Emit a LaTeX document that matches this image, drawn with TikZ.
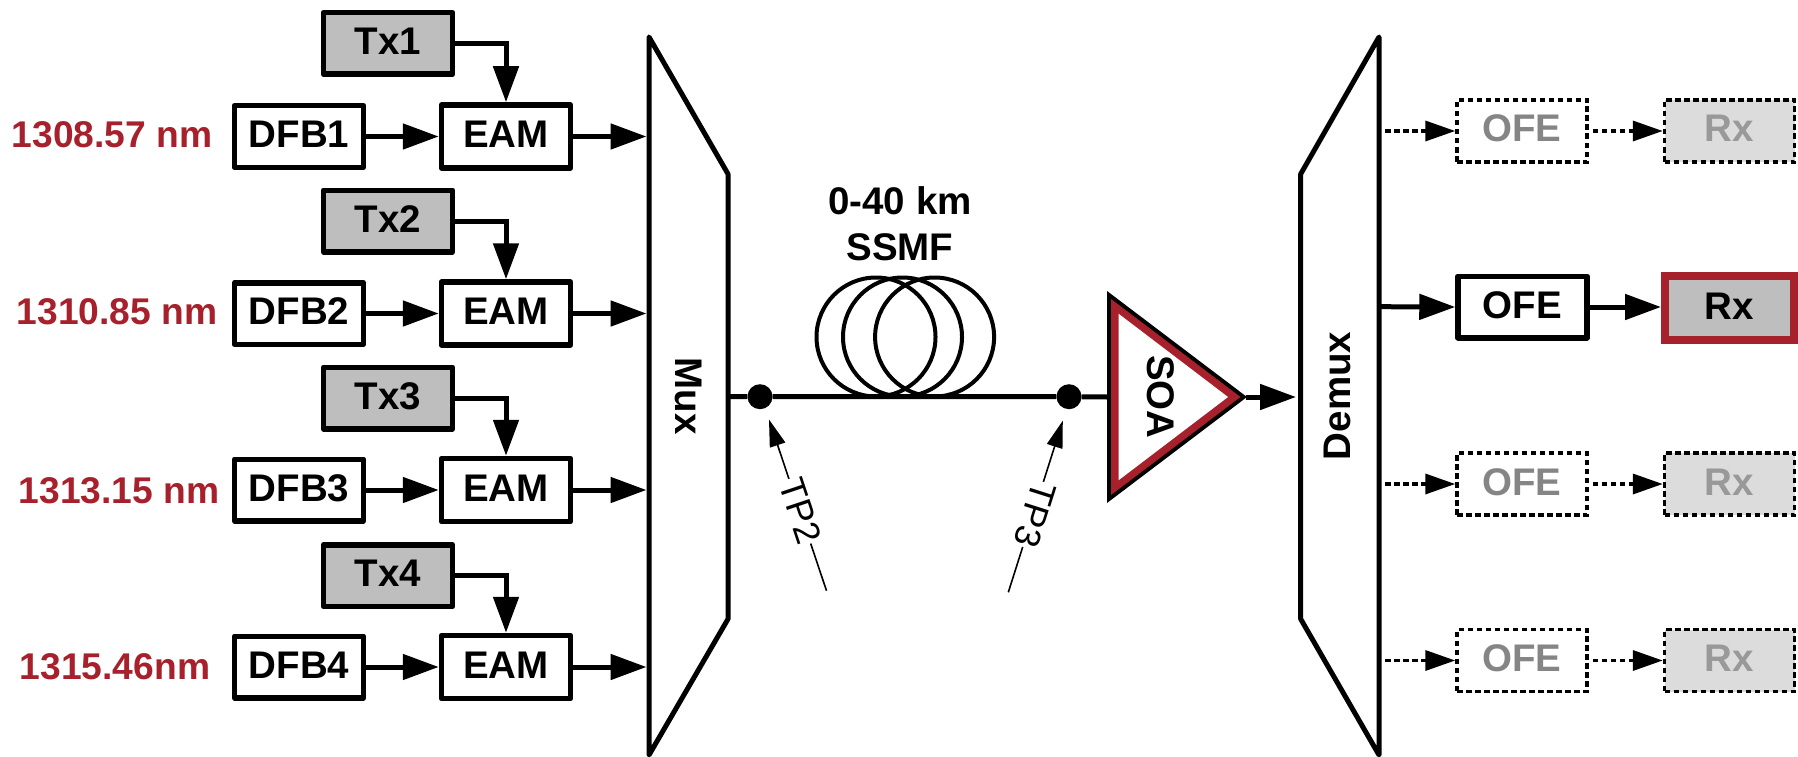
\documentclass[tikz,border=0pt]{standalone}
\usepackage{fontspec}
\setmainfont{Liberation Sans}
\usetikzlibrary{arrows.meta,calc}
\definecolor{soared}{HTML}{A6212C}
\definecolor{midgray}{HTML}{BEBEBE}
\definecolor{lightgray2}{HTML}{DCDCDC}
\definecolor{fadeA}{HTML}{858585}
\definecolor{fadeB}{HTML}{999999}
\tikzset{
  every node/.style={font=\fontsize{38.5}{42}\bfseries\selectfont},
  capbox/.style={text height=27pt,text depth=5pt,inner sep=0pt},
  blockbox/.style={capbox,draw=black,line width=5.5pt,line join=round,minimum width=129pt,minimum height=61.5pt,fill=white},
  txbox/.style={blockbox,fill=midgray},
  eambox/.style={blockbox,minimum height=63pt},
  ghost/.style={capbox,draw=black,line width=3.5pt,dash pattern=on 5.5pt off 3.5pt,minimum width=130pt,minimum height=62pt},
  conn/.style={line width=5pt,-{Triangle[length=36pt,width=25pt]}},
  ghostconn/.style={line width=3.5pt,dash pattern=on 5.5pt off 3.5pt,-{Triangle[length=30pt,width=20pt]}},
  wave/.style={capbox,text=soared,font=\fontsize{37.2}{40}\bfseries\selectfont},
  trap/.style={line width=5pt,line join=round,fill=white},
  coil/.style={line width=4pt},
  probe/.style={line width=1.6pt,-{Triangle[length=27pt,width=16pt]}},
  probelabel/.style={font=\fontsize{36}{38}\selectfont,fill=white,inner sep=1pt},
  dot/.style={circle,fill=black,minimum size=25pt,inner sep=0pt}
}
\begin{document}
\begin{tikzpicture}[x=1pt,y=-1pt]
\useasboundingbox (0,0) rectangle (1798,757);
% multiplexers
\draw[trap] (649,37) -- (728,174) -- (728,619) -- (649,755) -- cycle;
\draw[trap] (1379,37) -- (1300.7,174) -- (1300.7,619) -- (1379,755) -- cycle;
\node[capbox,rotate=-90] (mux) at (686,396) {Mux};
\node[capbox,rotate=90] (demux) at (1339,396) {Demux};
% transmitter rows
\foreach \i/\ty/\ry/\ly/\lab/\lx in {1/43.5/136.5/136.5/1308.57 nm/112,2/221/313.5/313.5/1310.85 nm/117,3/398/490/492/1313.15 nm/119,4/575.5/667/668/1315.46nm/115}{
  \node[txbox] (tx\i) at (388,\ty) {Tx\i};
  \node[blockbox] (dfb\i) at (299,\ry) {DFB\i};
  \node[eambox] (eam\i) at (506,\ry) {EAM};
  \node[wave] (wl\i) at (\lx,\ly) {\lab};
  \coordinate (mi\i) at (646.5,\ry);
  \draw[conn] (tx\i.east) -| (eam\i.north);
  \draw[conn] (dfb\i.east) -- (eam\i.west);
  \draw[conn] (eam\i.east) -- (mi\i);
}
% fibre coil
\draw[coil] (876,337) circle[radius=59.5pt];
\draw[coil] (902.5,337) circle[radius=59.5pt];
\draw[coil] (934.6,337) circle[radius=59.5pt];
\node[capbox] (km) at (900,203) {0-40 km};
\node[capbox] (ssmf) at (900,249) {SSMF};
% SOA
\fill[black] (1107,291) -- (1247,397) -- (1107,503) -- cycle;
\fill[soared] (1111,299) -- (1240.4,397) -- (1111,495) -- cycle;
\fill[white] (1118.5,313.7) -- (1228,397) -- (1118.5,480.3) -- cycle;
\node[capbox,rotate=-90] (soa) at (1158,397) {SOA};
\coordinate (soaL) at (1107,397);
\coordinate (soaR) at (1246,397);
\coordinate (dmi) at (1296,397);
\coordinate (mo) at (728,396.7);
% test points and line
\node[dot] (tp2) at (760,396.7) {};
\node[dot] (tp3) at (1069,396.7) {};
\draw[line width=5pt] (mo) -- (tp2) -- (tp3) -- (soaL);
\draw[conn] (soaR) -- (dmi);
\coordinate (tp2tip) at (769,419.5);
\coordinate (tp2end) at (826.5,590.7);
\coordinate (tp3tip) at (1062.8,420.7);
\coordinate (tp3end) at (1008.3,592.3);
\draw[probe] (tp2end) -- (tp2tip);
\draw[probe] (tp3end) -- (tp3tip);
\node[probelabel,rotate=-71.5] (tp2l) at (800.5,511) {TP2};
\node[probelabel,rotate=-107.6] (tp3l) at (1035,515) {TP3};
% receivers
\foreach \i/\ry in {1/131,3/484,4/660.5}{
  \node[ghost,text=fadeA] (ofe\i) at (1522,\ry) {OFE};
  \node[ghost,fill=lightgray2,text=fadeB] (rx\i) at (1729.5,\ry) {Rx};
  \coordinate (do\i) at (1385,\ry);
  \draw[ghostconn] (do\i) -- (ofe\i.west);
  \coordinate (ro\i) at ($(ofe\i.east)+(4,0)$);
  \draw[ghostconn] (ro\i) -- (rx\i.west);
}
\node[blockbox] (ofe2) at (1522.5,307) {OFE};
\node[txbox,draw=soared,line width=8pt,line join=miter,minimum width=129pt,minimum height=64pt] (rx2) at (1729.5,308) {Rx};
\coordinate (do2) at (1379,306.7);
\draw[conn] (do2) -- (ofe2.west);
\draw[conn] (ofe2.east) -- (ofe2.east -| rx2.west);
\end{tikzpicture}
\end{document}
